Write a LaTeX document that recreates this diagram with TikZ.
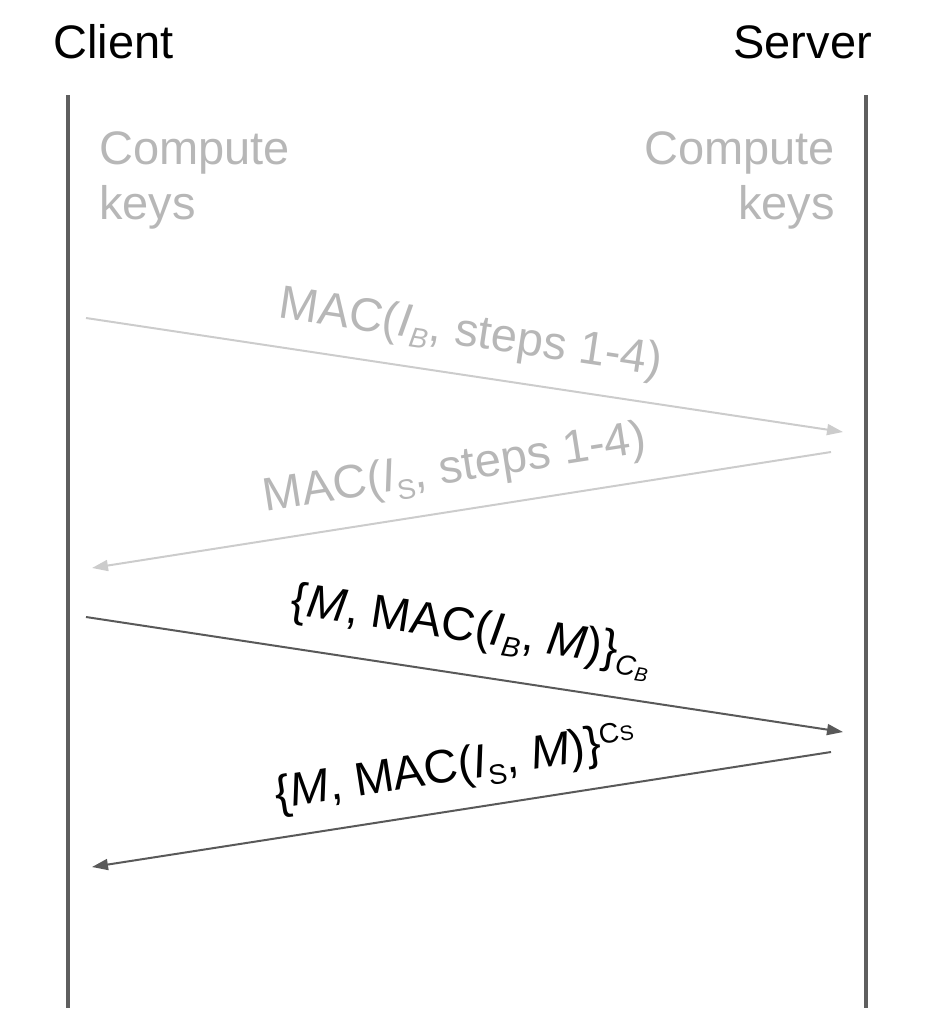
\documentclass[tikz,border=0pt]{standalone}
\usepackage{fontspec}
\setmainfont{Liberation Sans}
\usetikzlibrary{arrows.meta}
\definecolor{life}{HTML}{5F5F5F}
\definecolor{faintline}{HTML}{CCCCCC}
\definecolor{fainttext}{HTML}{B7B7B7}
\definecolor{darkline}{HTML}{595959}
\newcommand\lsub[1]{\raisebox{-0.2em}{\fontsize{28}{28}\selectfont #1}}
\newcommand\lsup[1]{\raisebox{0.3em}{\fontsize{28}{28}\selectfont #1}}
\begin{document}
\begin{tikzpicture}[x=1pt,y=-1pt,
  head/.style={font=\fontsize{47}{52}\selectfont, inner sep=0pt, text=black},
  note/.style={font=\fontsize{47}{55}\selectfont, inner sep=0pt, text=fainttext},
  lifeline/.style={draw=life, line width=4.5pt},
  faintmsg/.style={draw=faintline, line width=2pt, -{Triangle[length=16pt,width=11pt]}},
  darkmsg/.style={draw=darkline, line width=2pt, -{Triangle[length=16pt,width=11pt]}},
  fainttxt/.style={font=\fontsize{47}{52}\selectfont, inner sep=0pt, text=fainttext, sloped, above=18pt},
  darktxt/.style={font=\fontsize{47}{52}\selectfont, inner sep=0pt, text=black, sloped, above=18pt}
]
\useasboundingbox (0,0) rectangle (924,1020);
% headers
\node[head, anchor=base west] (client) at (53,58) {Client};
\node[head, anchor=base east] (server) at (872,58) {Server};
% lifelines
\coordinate (ctop) at (68,95);
\coordinate (cbot) at (68,1008);
\coordinate (stop) at (866,95);
\coordinate (sbot) at (866,1008);
\draw[lifeline] (ctop) -- (cbot);
\draw[lifeline] (stop) -- (sbot);
% compute keys
\node[note, align=left, anchor=north west] (ckc) at (99,131) {Compute\\keys};
\node[note, align=right, anchor=north east] (cks) at (835,131) {Compute\\keys};
% message endpoints
\coordinate (m1s) at (86,318);
\coordinate (m1e) at (843,432);
\coordinate (m2s) at (831,452);
\coordinate (m2e) at (92,568);
\coordinate (m3s) at (86,617);
\coordinate (m3e) at (843,732);
\coordinate (m4s) at (831,752);
\coordinate (m4e) at (92,867);
% messages
\draw[faintmsg] (m1s) -- node[fainttxt] (l1) {MAC(\textit{I}\lsub{\textit{B}}, steps 1-4)} (m1e);
\draw[faintmsg] (m2s) -- node[fainttxt] (l2) {MAC(\textit{I}\lsub{S}, steps 1-4)} (m2e);
\draw[darkmsg] (m3s) -- node[darktxt] (l3) {\{\textit{M}, MAC(\textit{I}\lsub{\textit{B}}, \textit{M})\}\lsub{\textit{C}\textsubscript{\textit{B}}}} (m3e);
\draw[darkmsg] (m4s) -- node[darktxt] (l4) {\{\textit{M}, MAC(\textit{I}\lsub{S}, \textit{M})\}\lsup{C\kern0.5pt{\fontsize{21}{21}\selectfont S}}} (m4e);
\end{tikzpicture}
\end{document}
